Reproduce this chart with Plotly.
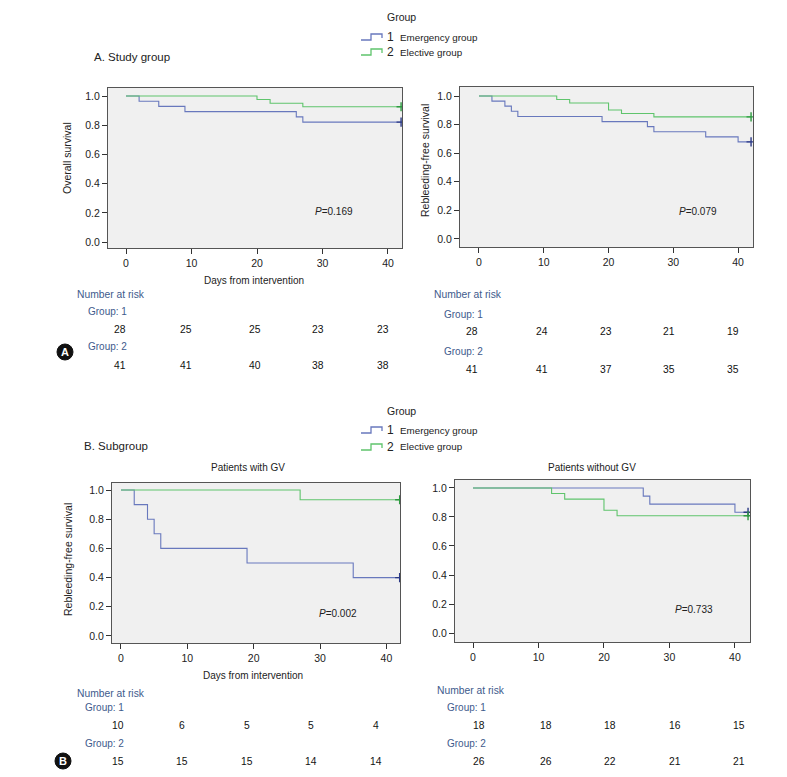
import plotly.graph_objects as go

# page body has an 8px margin, so the figure is sized to fill the rest of the window
OFF = 8
W, H = 787 - OFF, 777 - OFF

# ---------------- data ----------------
days_ticks = [0, 10, 20, 30, 40]
y_ticks = [0.0, 0.2, 0.4, 0.6, 0.8, 1.0]

# A. Study group - Overall survival
a_os_g1_t = [0, 2, 5, 9, 26, 27, 42]
a_os_g1_s = [1.0, 0.964, 0.929, 0.893, 0.857, 0.821, 0.821]
a_os_g2_t = [0, 20, 22, 27, 42]
a_os_g2_s = [1.0, 0.976, 0.951, 0.927, 0.927]
# A. Study group - Rebleeding-free survival
a_rb_g1_t = [0, 2, 4, 5, 6, 19, 26, 27, 35, 40, 42]
a_rb_g1_s = [1.0, 0.964, 0.929, 0.893, 0.857, 0.821, 0.786, 0.750, 0.714, 0.679, 0.679]
a_rb_g2_t = [0, 12, 14, 20, 22, 27, 42]
a_rb_g2_s = [1.0, 0.976, 0.951, 0.902, 0.878, 0.854, 0.854]
# B. Subgroup - Patients with GV
b_gv_g1_t = [0, 2, 4, 5, 6, 19, 35, 42]
b_gv_g1_s = [1.0, 0.9, 0.8, 0.7, 0.6, 0.5, 0.4, 0.4]
b_gv_g2_t = [0, 27, 42]
b_gv_g2_s = [1.0, 0.933, 0.933]
# B. Subgroup - Patients without GV
b_ngv_g1_t = [0, 26, 27, 40, 42]
b_ngv_g1_s = [1.0, 0.944, 0.889, 0.833, 0.833]
b_ngv_g2_t = [0, 12, 14, 20, 22, 42]
b_ngv_g2_s = [1.0, 0.962, 0.923, 0.846, 0.808, 0.808]

p_values = ["0.169", "0.079", "0.002", "0.733"]

risk_a_os_g1 = [28, 25, 25, 23, 23]
risk_a_os_g2 = [41, 41, 40, 38, 38]
risk_a_rb_g1 = [28, 24, 23, 21, 19]
risk_a_rb_g2 = [41, 41, 37, 35, 35]
risk_b_gv_g1 = [10, 6, 5, 5, 4]
risk_b_gv_g2 = [15, 15, 15, 14, 14]
risk_b_ngv_g1 = [18, 18, 18, 16, 15]
risk_b_ngv_g2 = [26, 26, 22, 21, 21]

group_labels = ["Emergency group", "Elective group"]

# ---------------- style ----------------
BLUE = "#6878bd"
GREEN = "#5fc46c"
BLUE_D = "#2c3a86"
GREEN_D = "#2e9a40"
LBLUE = "#3e5a8c"
FONT = "Liberation Sans, Arial"
TICKF = dict(family=FONT, size=10.5, color="#222")


def px(x):
    return (x - OFF) / W


def py(y):
    return 1 - (y - OFF) / H


fig = go.Figure()

panels = [
    dict(box=(108, 402, 88, 248), xr=[-2.75, 42.14], yr=[-0.041, 1.055]),
    dict(box=(460, 753, 87, 247), xr=[-2.93, 42.3], yr=[-0.056, 1.063]),
    dict(box=(112, 400, 483, 643), xr=[-1.35, 42.05], yr=[-0.048, 1.048]),
    dict(box=(455, 750, 480, 642), xr=[-2.75, 42.3], yr=[-0.062, 1.055]),
]
curves = [
    ((a_os_g1_t, a_os_g1_s), (a_os_g2_t, a_os_g2_s)),
    ((a_rb_g1_t, a_rb_g1_s), (a_rb_g2_t, a_rb_g2_s)),
    ((b_gv_g1_t, b_gv_g1_s), (b_gv_g2_t, b_gv_g2_s)),
    ((b_ngv_g1_t, b_ngv_g1_s), (b_ngv_g2_t, b_ngv_g2_s)),
]

for i, (pn, (c1, c2)) in enumerate(zip(panels, curves)):
    k = "" if i == 0 else str(i + 1)
    l, r, t, b = pn["box"]
    fig.update_layout(**{
        "xaxis" + k: dict(domain=[px(l), px(r)], range=pn["xr"], anchor="y" + k,
                          tickvals=days_ticks, ticks="outside", ticklen=5, tickcolor="#333",
                          showgrid=False, zeroline=False, showline=True, linecolor="#555",
                          mirror=True, tickfont=TICKF, fixedrange=True),
        "yaxis" + k: dict(domain=[py(b), py(t)], range=pn["yr"], anchor="x" + k,
                          tickvals=y_ticks, tickformat=".1f", ticks="outside", ticklen=5,
                          tickcolor="#333", showgrid=False, zeroline=False, showline=True,
                          linecolor="#555", mirror=True, tickfont=TICKF, fixedrange=True),
    })
    for (tt, ss), col, dcol in ((c1, BLUE, BLUE_D), (c2, GREEN, GREEN_D)):
        fig.add_trace(go.Scatter(x=tt, y=ss, mode="lines", line=dict(color=col, width=1.1, shape="hv"),
                                 xaxis="x" + k, yaxis="y" + k, showlegend=False, hoverinfo="skip"))
        fig.add_trace(go.Scatter(x=[tt[-1]], y=[ss[-1]], mode="markers",
                                 marker=dict(symbol="cross-thin", size=6.5, line=dict(color=dcol, width=1.4)),
                                 xaxis="x" + k, yaxis="y" + k, showlegend=False, hoverinfo="skip"))

fig.update_layout(plot_bgcolor="#f0f0f0", paper_bgcolor="white", width=W, height=H,
                  margin=dict(l=0, r=0, t=0, b=0), showlegend=False)

ann = []
shapes = []


def text(x, y, s, size=10, color="#222", family=FONT, anchor="left", angle=0):
    ann.append(dict(x=px(x), y=py(y), xref="paper", yref="paper", text=s, showarrow=False,
                    xanchor=anchor, yanchor="middle", textangle=angle,
                    font=dict(family=family, size=size, color=color)))


# titles
text(92, 57, "A. Study group", size=11.5)
text(82, 446, "B. Subgroup", size=11.5)
text(248, 467, "Patients with GV", size=10, anchor="center")
text(592, 467, "Patients without GV", size=10, anchor="center")
text(254, 280, "Days from intervention", size=10, anchor="center")
text(253, 675, "Days from intervention", size=10, anchor="center")
text(67, 158, "Overall survival", size=10.5, anchor="center", angle=-90)
text(425, 160, "Rebleeding-free survival", size=10.5, anchor="center", angle=-90)
text(68, 560, "Rebleeding-free survival", size=10.5, anchor="center", angle=-90)

# p-values
for (x, y), pv in zip([(313, 212), (677, 212), (317, 613), (673, 609)], p_values):
    text(x, y, "<i>P</i>=" + pv, size=10)

# legends
for gy, r1, r2 in [(17, 37, 52), (411, 430, 447)]:
    text(402, gy, "Group", size=10.5, anchor="center")
    for ry, col, num, lab in [(r1, BLUE, "1", group_labels[0]), (r2, GREEN, "2", group_labels[1])]:
        path = "M {} {} L {} {} L {} {} L {} {} L {} {}".format(
            px(361), py(ry + 3), px(371), py(ry + 3), px(371), py(ry - 3), px(382), py(ry - 3),
            px(382), py(ry + 1))
        shapes.append(dict(type="path", path=path, xref="paper", yref="paper",
                           line=dict(color=col, width=1.3)))
        text(385, ry, num, size=12)
        text(398, ry, lab, size=9.8)

# number at risk tables
tables = [
    dict(hx=75, gx=86, ys=(294, 312, 329, 347, 365), xs=[120, 186, 255, 318, 383],
         r1=risk_a_os_g1, r2=risk_a_os_g2),
    dict(hx=432, gx=442, ys=(294, 314, 332, 351, 369), xs=[472, 542, 606, 669, 733],
         r1=risk_a_rb_g1, r2=risk_a_rb_g2),
    dict(hx=75, gx=83, ys=(693, 707, 725, 743, 761), xs=[118, 182, 247, 311, 376],
         r1=risk_b_gv_g1, r2=risk_b_gv_g2),
    dict(hx=435, gx=445, ys=(690, 707, 725, 743, 761), xs=[479, 546, 610, 675, 739],
         r1=risk_b_ngv_g1, r2=risk_b_ngv_g2),
]
for tb in tables:
    yh, yg1, yn1, yg2, yn2 = tb["ys"]
    text(tb["hx"], yh, "Number at risk", size=10.3, color=LBLUE)
    text(tb["gx"], yg1, "Group: 1", size=10, color=LBLUE)
    text(tb["gx"], yg2, "Group: 2", size=10, color=LBLUE)
    for x, v in zip(tb["xs"], tb["r1"]):
        text(x, yn1, str(v), size=10.3, color="#111", anchor="center")
    for x, v in zip(tb["xs"], tb["r2"]):
        text(x, yn2, str(v), size=10.3, color="#111", anchor="center")

# badges
for cx, cy, letter in [(65, 352, "A"), (63, 761, "B")]:
    shapes.append(dict(type="circle", xref="paper", yref="paper", x0=px(cx - 8), x1=px(cx + 8),
                       y0=py(cy + 8), y1=py(cy - 8), fillcolor="#111", line=dict(color="#111", width=1)))
    ann.append(dict(x=px(cx), y=py(cy), xref="paper", yref="paper", text="<b>" + letter + "</b>",
                    showarrow=False, xanchor="center", yanchor="middle",
                    font=dict(family=FONT, size=11, color="white")))

fig.update_layout(annotations=ann, shapes=shapes)
fig.write_html("out.html")
